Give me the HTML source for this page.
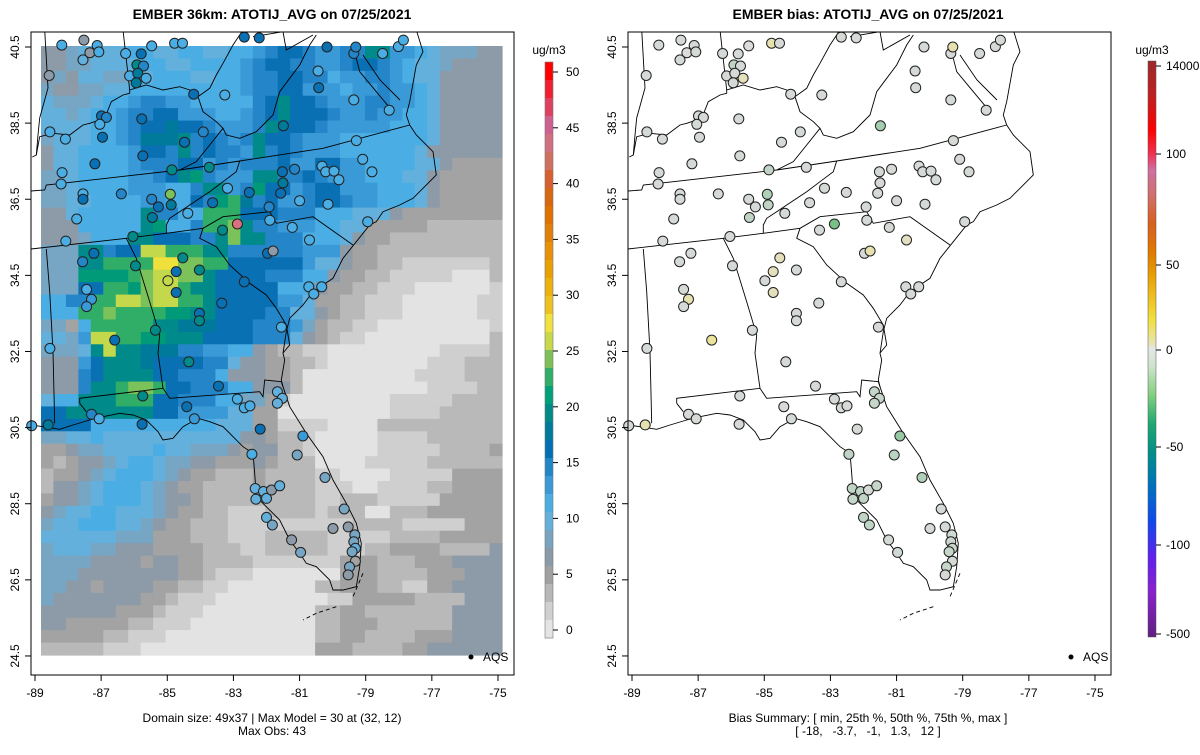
<!DOCTYPE html>
<html><head><meta charset="utf-8"><style>
body{margin:0;background:#fff;}
svg text{font-family:"Liberation Sans",sans-serif;}
</style></head><body>
<svg id="svg" width="1200" height="750" xmlns="http://www.w3.org/2000/svg">
<defs>
<clipPath id="clipL"><rect x="31" y="32" width="483" height="643"/></clipPath>
<clipPath id="clipR"><rect x="628" y="32" width="483" height="643"/></clipPath>
<linearGradient id="biasGrad" x1="0" y1="0" x2="0" y2="1">
<stop offset="0" stop-color="#9b2a2a"/><stop offset="0.06" stop-color="#c02020"/><stop offset="0.12" stop-color="#ff0000"/>
<stop offset="0.16" stop-color="#f03050"/><stop offset="0.19" stop-color="#d070a0"/><stop offset="0.23" stop-color="#d07070"/>
<stop offset="0.28" stop-color="#d86020"/><stop offset="0.33" stop-color="#e07800"/><stop offset="0.37" stop-color="#e89c00"/>
<stop offset="0.41" stop-color="#eec020"/><stop offset="0.45" stop-color="#f0e040"/><stop offset="0.49" stop-color="#e8e4b0"/>
<stop offset="0.5" stop-color="#e6e6e6"/><stop offset="0.53" stop-color="#cce4cc"/><stop offset="0.58" stop-color="#80d080"/>
<stop offset="0.63" stop-color="#20a870"/><stop offset="0.68" stop-color="#00908a"/><stop offset="0.74" stop-color="#0070c0"/>
<stop offset="0.8" stop-color="#1048f0"/><stop offset="0.86" stop-color="#6020f0"/><stop offset="0.92" stop-color="#8a20d0"/>
<stop offset="1" stop-color="#602080"/></linearGradient>
<g id="geo" fill="none" stroke="#000" stroke-width="0.9">
<polyline points="44.7,30 48,88 39.7,118 38,135 36.3,155 32.3,157"/>
<polyline points="123,30 129.7,90"/>
<polyline points="36.3,155 39.7,136.7 53,133.3 69.7,135 83,125 89.7,123.3 104.7,118.3 111.3,101.7 123,95 129.7,93.3 129.7,90 146.3,85 163,90 179.7,86.7 189.7,90 198,96.7 209.7,88.3 216.3,75 223,63.3 233,45 243,30"/>
<polyline points="198,96.7 203,111.7 216.3,121.7 223,128.3 226.3,135 239.7,138.3 256.3,131.7 263,125 273,115 279.7,91.7 289.7,78.3 299.7,65 309.7,45 316.3,35"/>
<polyline points="223,128.3 209.7,145 196.3,161.7 179.7,170"/>
<polyline points="31,191 44.7,190 46.3,185 106.3,178.3 179.7,170 239.7,161 323,148.3 409.7,125"/>
<polyline points="253,36.7 283,31.7 286.3,50 313,35"/>
<polyline points="239.7,161 236.3,171.7 223,181.7 209.7,191.7 189.7,205 179.7,211.7 169.7,218.3 166.3,225 166.3,233.3"/>
<polyline points="31,249 126.3,238.3 166.3,233.3 203,228.3"/>
<polyline points="203,228.3 223,216.7 269.7,211.7 276.3,223.3 313,216.7 353,245"/>
<polyline points="203,228.3 199.7,238.3 216.3,246.7 229.7,265 249.7,283.3 266.3,295 276.3,308.3 286.3,325 289.7,345 283,353"/>
<polyline points="46.3,249 49.7,291.7 53,351.7 54.7,423.3"/>
<polyline points="126.3,238.3 136.3,258.3 149.7,301.7 159.7,335 158,353.3 163,388.3"/>
<polyline points="79.7,403.3 79.7,398.3 163,388.3 169.7,398.3 259.7,391.7 263,396.7 264.7,380 281.3,381.7 283,386.7"/>
<polyline points="79.7,403.3 86.3,411.7"/>
<polyline points="416.3,30 423,51.7 416.3,65 409.7,101.7 406.3,115 409.7,125 416.3,135 433,151.7 436.3,175 423,188.3 413,198.3 399.7,205 383,211.7 376.3,221.7 369.7,225 356.3,241.7 343,258.3 333,278.3 313,291.7 303,305 289.7,318.3 286.3,331.7 283,353.3 284.7,360 281.3,380 283,386.7 289.7,406.7 306.3,433.3 323,456.7 333,480 346.3,503.3 356.3,523.3 361.3,543.3 359.7,566.7 356.3,586.7 343,590 333,590 329.7,580 316.3,566.7 306.3,563.3 299.7,553.3 289.7,540 279.7,520 266.3,506.7 256.3,496.7 254.7,473.3 253,453.3 243,446.7 229.7,433.3 223,426.7 209.7,421.7 198,418.3 183,426.7 173,438.3 163,440 158,431.7 153,426.7 146.3,420 133,415 119.7,413.3 103,416.7 89.7,420 73,425 59.7,429.3 43,426.7 31,425"/>
<polyline points="356.3,58.3 359.7,71.7 376.3,91.7 393,111.7"/>
<polyline points="363,55 380,80 400,100"/>
<polyline points="363,573.3 353,596.7" stroke-dasharray="4 3"/>
<polyline points="336.3,606.7 316.3,613.3 303,620" stroke-dasharray="4 3"/>
</g>
</defs>

<text x="272" y="19" text-anchor="middle" font-size="14" font-weight="bold">EMBER 36km: ATOTIJ_AVG on 07/25/2021</text>
<text x="868" y="19" text-anchor="middle" font-size="14" font-weight="bold">EMBER bias: ATOTIJ_AVG on 07/25/2021</text>

<g id="leftGrid" clip-path="url(#clipL)"></g>
<g clip-path="url(#clipL)"><use href="#geo"/></g>
<g clip-path="url(#clipR)"><use href="#geo" transform="translate(597,0)"/></g>
<g id="leftStations"></g>
<g id="rightStations"></g>
<rect x="31" y="32" width="483" height="643" fill="none" stroke="#000"/>
<rect x="628" y="32" width="483" height="643" fill="none" stroke="#000"/>
<g id="axes" font-size="12"></g>

<circle cx="471" cy="657" r="2.5" fill="#000"/>
<text x="483" y="661" font-size="12">AQS</text>
<circle cx="1071" cy="657" r="2.5" fill="#000"/>
<text x="1083" y="661" font-size="12">AQS</text>

<text x="272" y="722" text-anchor="middle" font-size="12">Domain size: 49x37 | Max Model = 30 at (32, 12)</text>
<text x="272" y="735" text-anchor="middle" font-size="12">Max Obs: 43</text>
<text x="868" y="722" text-anchor="middle" font-size="12">Bias Summary: [ min, 25th %, 50th %, 75th %, max ]</text>
<text x="868" y="735" text-anchor="middle" font-size="12" xml:space="preserve">[ -18,   -3.7,   -1,   1.3,   12 ]</text>

<g id="cbL"></g>
<text x="549" y="54" text-anchor="middle" font-size="12">ug/m3</text>
<rect x="1148" y="61" width="8" height="576" fill="url(#biasGrad)" stroke="#555" stroke-width="0.5"/>
<text x="1152" y="54" text-anchor="middle" font-size="12">ug/m3</text>
<g id="cbR" font-size="12"></g>
</svg>
<script>
const NS="http://www.w3.org/2000/svg";
// model grid level codes (49 rows x 37 cols); plain strings or run-length (letter+count)
const gridRows=[
"eefgggghhgghhgghhijkkjiijjmmiihgfffee","eeffgggghhgghhhhijkkjjiijkkjihggfeeee","efeggffgghhhgghhijjkkjjhiijjihggeeeee",
"feeffgghhhhhhhhhijjkkiiihiijiihgeeeee","gfffghhijjiihhhhhjkmkkjiiijjiihgeeeee","ggfghhijjkkiiihhijkmkkkjiijiihhgeeeee",
"gggghhijkklkkjiiijmkkkjiiiiihhhgeeeee","fggghhijlllmjkjijmkkjiiihhhhhhhgeeeee","egghhhhikkjmjkjjimjkjiiihhhhhhgeeeeee",
"egghhhhijjjkkijijjjkiikkiihhhhggedddd","ffghhhhiijkmnjiiimmjjkjiiihhhggeddddd","ffghhhhiiihhjmmijnkkijkkiiihhhgeddddd",
"ffgghhhhiihhkjnoljkiijkkjiihhhgeddddd",
"e2g1h5m1j2h2o3k3j3h3g3e1d8","e3h5m1n1h2j1o2p1m1j2i3h2g2d2d3c6","e3f1h3m2k3j2m1p1m2j3h3g1e1d2c9",
"f3m2j1k2q2o3m2j4j2i3e1d2c10","f3m2o3o1r2p2o2k4k2i1g2e1d2c2b7c1","f3n4o1p1q2p2m1k4j3h2e1d2c2b5a3c1",
"f3k2o2n1p1q2o1m2k5h3e1d2c2b3a6b1","h2j2o2q2p1q2o2m1k5i2g1d2c2b3a6b2","h3o2p1o4n2m2k4j2g2e1d1c2b3a6b2",
"f2d1h1o5m2l3k3j3i1f1d1c2b2a9b1","g2f1i1q2o2n2m3k4j3g1e1d1c1b2a10c1","f3g1m1q1m2l3j2i2h2e1d1c2b2a9b4c1",
"e3i1k1m3l1k4j2g1e2d2c2b1a8b3c3","e3j1k1m4k2j3h1e3d2c1a9b4c3","e3j1m2o1p2o1k2j3h2e3c1a10b4c2",
"g1h2m3o3k2j3h2f2d1b1a8b5c4","k2m4m3k2i4g2d2a9b4c5","k4h5h5g3d2b4a4c10",
"f2g2h1g11e2d1c2b1a5b4c6","d2e1f2g4h1g2f3e1d1e2c2b1a5b5c4d1","d1c1d1e2f1g1h2g1f2e2d3e1d1c3a4b5c6",
"c1d2e1f1g1h3g1f1e1d2c3d1c4b2a4b5d4","c1e2f1g1h3g1f1e1d2c4d1c4b3a2b4c2d4","d1e2f1g1h3g1f1e2d1c9b2c3b5d5",
"e1f1g2h2g3f1e1d2c2b3c4b1c3a2c3d6","f1g2h3g2f1e1d2c3b7b3c4b5d3","g6f3d3c3b3c4c1b5c4d5",
"f1g3f2e3d4c3b2c4c1b3c2d4c4e1","f4e4d1e2d2c4b5b2d3c3d3e4","f3e8d2c1b3a5a2d3c4d3e3",
"f2e2d1e4d2c2b2a7c2d3c2b2d2e4","f1e7d2c1b3a8a1b2d5c4e3","e6d3c1b3a9c2d2c7e4",
"e2d5c2b3a10c2d3c6e4","d5c2b3a12c2d2c4d3e4","c5b3a14d3c4d2e6"];
const levelCodes="abcdefghijklmnopqrs";
const levelColors=["#e3e3e3","#cfcfcf","#b9b9b9","#a3a3a3","#8c9ba7","#77a6c4","#64b0dc","#4aaee4","#3a9ad8","#2486c8","#0a70b4","#007a9a","#008a8a","#009a78","#30ae68","#7cc25a","#c3d84a","#f0e03c","#eec828"];
const levelBreaks=[1,3,5,6,8,10,11.5,13,15,16.5,18,19.5,21,22.5,24.5,26.5,28.5,30.5,32.5];
// stations
const stLon=[-88.57,-87.55,-87.34,-87.12,-86.26,-85.79,-85.47,-85.92,-85.72,-86.14,-85.89,-85.64,-85.94,-84.2,-83.26,-86.99,-86.84,-87.04,-85.77,-88.55,-88.08,-86.96,-84.48,-83.91,-85.74,-87.19,-88.18,-88.21,-84.86,-83.73,-81.49,-80.44,-80.42,-79.36,-78.29,-79.28,-79.09,-80.32,-80.21,-79.96,-79.81,-78.81,-81.52,-81.15,-81.5,-81.57,-81.0,-80.14,-81.92,-81.9,-81.22,-80.7,-84.91,-84.88,-85.47,-85.27,-86.39,-87.55,-87.55,-87.74,-88.07,-85.45,-84.38,-83.63,-83.18,-82.52,-86.04,-83.33,-82.88,-81.97,-81.8,-82.67,-84.53,-84.73,-84.03,-84.98,-84.73,-85.96,-87.22,-87.56,-87.44,-87.29,-87.44,-83.35,-84.03,-84.03,-85.36,-86.59,-78.94,-80.72,-80.57,-80.33,-81.55,-79.36,-78.01,-78.49,
-88.19,-87.52,-84.78,-84.54,-82.67,-82.22,-80.17,-79.3,-77.86,-87.07,
-88.55,-84.35,-83.45,-85.74,-84.41,-82.88,-82.67,-82.5,-81.67,-81.52,-81.67,-87.29,-87.06,-88.6,-89.1,-85.76,-84.18,-82.19,-80.9,-81.07,-82.44,-80.23,-82.34,-82.09,-82.32,-82.0,-81.85,-81.6,-79.65,-79.99,-79.53,-82.0,-81.82,-79.33,-79.36,-79.31,-79.41,-79.31,-79.49,-79.53,-81.24,-80.97];
const stLat=[39.75,40.16,40.35,40.54,40.33,40.32,40.53,40.03,40.0,39.74,39.81,39.68,39.56,39.26,39.24,38.69,38.65,38.47,38.61,38.27,38.08,38.13,38.0,38.27,37.64,37.43,37.2,36.9,37.27,37.34,38.43,39.87,39.43,39.11,38.84,38.04,37.55,37.37,37.22,37.24,37.01,37.22,37.22,37.29,36.93,36.66,36.46,36.37,36.3,35.95,35.76,35.43,36.63,36.35,36.5,36.3,36.64,36.64,36.5,35.98,35.4,36.02,36.13,36.41,36.79,36.68,35.52,35.69,35.85,35.08,35.14,34.33,34.96,34.6,34.64,34.36,34.05,34.75,35.08,34.86,34.13,33.87,33.68,33.77,33.5,33.31,33.06,32.8,35.91,34.2,34.01,34.2,33.14,40.33,40.51,40.33,
40.55,40.68,40.6,40.6,40.76,40.74,40.5,40.5,40.68,40.37,
32.58,32.23,31.59,31.33,31.05,31.25,31.02,31.07,31.44,31.27,31.14,30.85,30.73,30.57,30.55,30.59,30.73,30.46,30.28,29.78,29.8,29.19,28.9,28.82,28.62,28.64,28.86,28.97,28.36,27.85,27.89,28.14,27.94,27.68,27.5,27.33,27.24,26.99,26.84,26.63,27.55,27.22];
const stObs=[7,11,7,12,12,17,12,20,16,12,19,12,19,17,12,17,16,12,17,12,12,17,17,16,17,17,12,12,20,20,19,12,17,12,12,12,12,12,12,12,12,12,17,16,19,17,12,12,16,12,12,12,26,19,16,17,15,12,17,12,12,19,12,17,12,17,20,20,44,17,7,17,20,17,20,28,17,20,17,16,12,14,14,17,17,20,20,17,12,12,12,12,12,16,12,12,
12,7,12,12,17,17,17,16,12,12,
12,20,17,20,17,12,12,12,11,11,11,16,12,19,12,17,14,17,14,9,12,9,11,11,11,11,7,11,9,7,7,11,9,9,9,11,9,5,9,7,7,9];
const stBias=[-1,-1,0,-1,-1,-1,0,-5,-1,-1,-1,6,-1,-1,-1,-1,-1,-1,-1,-1,-1,-1,-1,-1,-1,-1,-1,-1,-5,-1,-10,-1,-1,-1,-1,-1,-1,-1,-1,-1,-1,-1,-1,-1,-1,-1,-1,-1,-1,-1,-1,5,-8,-5,-1,-1,-1,-1,-1,-1,-1,-5,-1,-1,-1,-1,-1,-1,-18,-1,8,-1,6,6,-1,-1,6,-1,-1,-1,-1,8,-1,-1,-1,-1,-1,12,-1,-1,-1,-1,-1,-1,-1,-1,
-1,-1,8,-1,-1,-1,-1,8,-1,-1,
-1,-1,-1,-1,-1,-1,-1,-1,-4,-4,-4,-1,-1,8,-1,-1,-1,-1,-12,-6,-5,-8,-5,-5,-4,-5,-1,-4,-1,-1,-1,-5,-5,-2,-3,-4,-4,-1,-4,-1,-1,-2];
const lonTicks=[-89,-87,-85,-83,-81,-79,-77,-75];
const latTicks=[40.5,38.5,36.5,34.5,32.5,30.5,28.5,26.5,24.5];
const cbLeftColors=["#ff0000","#f02030","#e04060","#d06090","#d07080","#d07060","#d86030","#d86810","#e07000","#e08008","#e89008","#eaa000","#ecb010","#eec020","#f0e040","#c8d848","#80c058","#30ae68","#00a078","#008a88","#007a9c","#0070b4","#2086c8","#3a9ad8","#4aaee4","#64b0dc","#78a4c0","#8a9aa6","#a0a0a0","#b8b8b8","#d0d0d0","#e4e4e4"];
const cbLeftTicks=[0,5,10,15,20,25,30,35,40,45,50];
const cbRightTicks=["14000","100","50","0","-50","-100","-500"];
const cbRightTickY=[66,154,265,350,447,545,634];

function xL(lon){return 35+(lon+89)*33.07;}
function yL(lat){return 47+(40.5-lat)*38.06;}
function mk(tag,attrs,parent){const e=document.createElementNS(NS,tag);for(const k in attrs)e.setAttribute(k,attrs[k]);parent.appendChild(e);return e;}
function obsColor(v){if(v>=40)return "#d87080";for(let i=0;i<levelBreaks.length;i++)if(v<levelBreaks[i])return levelColors[i];return levelColors[levelColors.length-1];}
function mix(a,b,t){const pa=[1,3,5].map(i=>parseInt(a.substr(i,2),16)),pb=[1,3,5].map(i=>parseInt(b.substr(i,2),16));return "rgb("+pa.map((v,i)=>Math.round(v+(pb[i]-v)*t)).join(",")+")";}
function biasColor(v){if(v<0)return mix("#dcdcdc","#78c088",Math.min(1,-v/18));return mix("#dcdcdc","#ece49a",Math.min(1,v/12));}
function decodeRow(s){if(!/\d/.test(s))return s;let out="";const re=/([a-z])(\d+)/g;let m;while((m=re.exec(s)))out+=m[1].repeat(+m[2]);return out;}

const grid=document.getElementById('leftGrid');
const cw=461/37,ch=609/49;
gridRows.forEach((raw,r)=>{const row=decodeRow(raw);for(let c=0;c<37;c++){const code=row[Math.min(c,row.length-1)];
 const cell=mk('rect',{x:(41+c*cw).toFixed(2),y:(46+r*ch).toFixed(2),width:(cw+0.6).toFixed(2),height:(ch+0.6).toFixed(2),fill:levelColors[levelCodes.indexOf(code)]},grid);
 
 }});

const gL=document.getElementById('leftStations'),gR=document.getElementById('rightStations');
for(let i=0;i<stLon.length;i++){
 const x=xL(stLon[i]),y=yL(stLat[i]);
 const a=mk('circle',{cx:x.toFixed(1),cy:y.toFixed(1),r:5,fill:obsColor(stObs[i]),stroke:"#222","stroke-width":1},gL);
 
 
 const b=mk('circle',{cx:(x+597).toFixed(1),cy:y.toFixed(1),r:5,fill:biasColor(stBias[i]),stroke:"#222","stroke-width":1},gR);
 
 
}

const ax=document.getElementById('axes');
[0,597].forEach(off=>{
 lonTicks.forEach(t=>{const x=xL(t)+off;
  const l=mk('line',{x1:x,x2:x,y1:675,y2:681,stroke:"#000"},ax);
  
  
  const tx=mk('text',{x:x,y:697,"text-anchor":"middle"},ax);tx.textContent=t;
  
  });
 latTicks.forEach(t=>{const y=yL(t);const x0=31+off;
  const l=mk('line',{x1:x0-6,x2:x0,y1:y,y2:y,stroke:"#000"},ax);
  
  
  const tx=mk('text',{x:x0-12,y:y,"text-anchor":"middle",transform:`rotate(-90 ${x0-12} ${y})`},ax);tx.textContent=t.toFixed(1);
  
  });
});

const cbL=document.getElementById('cbL');
const bh=576/cbLeftColors.length;
cbLeftColors.forEach((c,i)=>{const r=mk('rect',{x:545,y:(62+i*bh).toFixed(2),width:8,height:(bh+0.5).toFixed(2),fill:c},cbL);
 
 });
mk('rect',{x:545,y:62,width:8,height:576,fill:"none",stroke:"#777","stroke-width":0.6},cbL);
cbLeftTicks.forEach(v=>{const y=630-v*11.16;
 const l=mk('line',{x1:553,x2:558,y1:y,y2:y,stroke:"#000"},cbL);
 
 
 const t=mk('text',{x:566,y:y+4,"font-size":12},cbL);t.textContent=v;
 
 });
const cbR=document.getElementById('cbR');
cbRightTicks.forEach((v,i)=>{const y=cbRightTickY[i];
 const l=mk('line',{x1:1156,x2:1161,y1:y,y2:y,stroke:"#000"},cbR);
 
 
 const t=mk('text',{x:1166,y:y+4},cbR);t.textContent=v;
 
 });
</script>
</body></html>
